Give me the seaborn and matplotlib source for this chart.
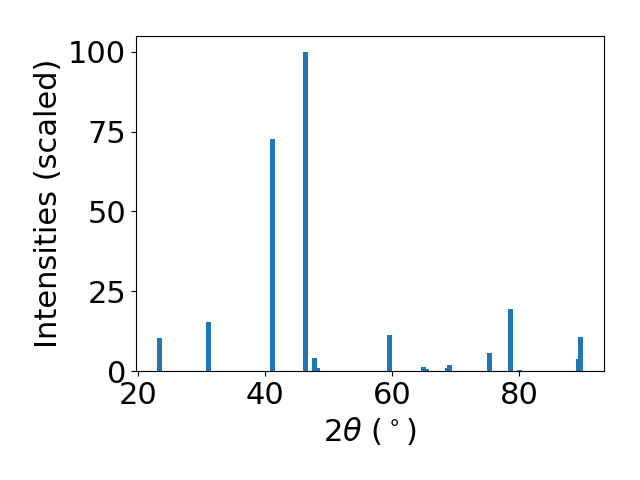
import numpy as np
import pandas as pd
import seaborn as sns
import matplotlib
matplotlib.use("Agg")
import matplotlib.pyplot as plt

# peak positions (2theta, degrees) and scaled intensities
two_theta = [23.4, 31.0, 41.1, 46.3, 47.8, 48.2, 59.5, 64.9, 65.3, 68.7, 69.0,
             75.3, 78.6, 80.0, 89.3, 89.6]
intensity = [10.3, 15.4, 72.7, 100.0, 4.1, 0.9, 11.3, 1.2, 0.6, 0.9, 1.9,
             5.6, 19.4, 0.4, 3.7, 10.6]

df = pd.DataFrame({"two_theta": two_theta, "intensity": intensity})

plt.rcParams["font.size"] = 22

fig, ax = plt.subplots(figsize=(6.4, 4.8), dpi=100)

# seaborn scales bar width by the smallest spacing between positions on a
# native axis, so undo that to get bars 0.8 degrees wide
min_gap = np.min(np.diff(np.unique(two_theta)))
sns.barplot(data=df, x="two_theta", y="intensity", native_scale=True,
            width=0.8 / min_gap, color="#1f77b4", saturation=1,
            errorbar=None, ax=ax)

ax.set_xlabel(r"2$\theta$ ($^\circ$)")
ax.set_ylabel("Intensities (scaled)")
ax.set_xticks([20, 40, 60, 80])
ax.set_yticks([0, 25, 50, 75, 100])

fig.subplots_adjust(left=0.2125, right=0.944, bottom=0.227, top=0.925)
fig.savefig("out.png")
